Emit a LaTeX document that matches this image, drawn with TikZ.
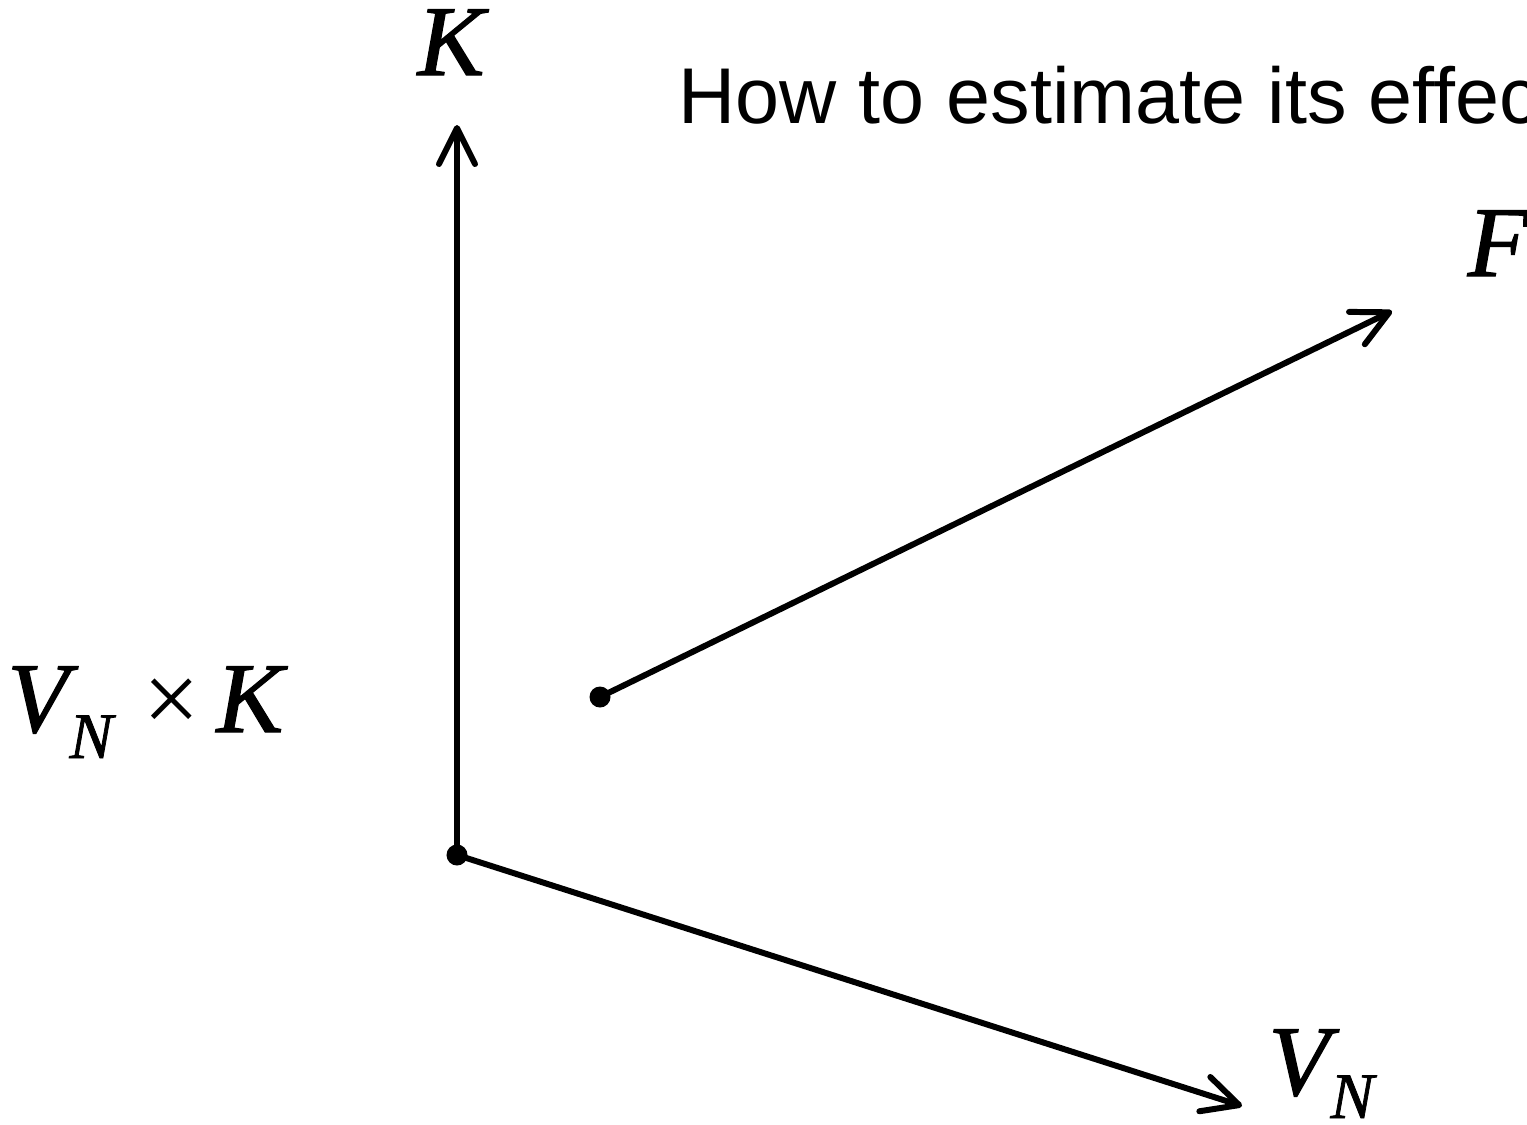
\documentclass[tikz,border=0pt]{standalone}
\usepackage{fontspec}
\setmainfont{Liberation Serif}[ItalicFeatures={FakeBold=1.2}]
\newfontfamily\arialfont{Liberation Sans}
\usetikzlibrary{arrows.meta}
\newcommand\serifbig{\fontsize{28.45pt}{34pt}\selectfont\itshape}
\newcommand\serifsub{\fontsize{18.5pt}{22pt}\selectfont\itshape}
\newcommand\placeat[3]{\makebox[0pt][l]{\hspace{#1}\raisebox{#2}{#3}}}
\tikzset{
  axis/.style={line width=1.7pt, line cap=round, -{Straight Barb[length=3.6mm, width=3.6mm, line cap=round, line join=round]}},
  dot/.style={circle, fill=black, inner sep=0pt, minimum size=2.1mm},
  lbl/.style={inner sep=0pt, anchor=base west},
}
\begin{document}
\begin{tikzpicture}[x=0.01cm, y=-0.01cm]
\useasboundingbox (0,0) rectangle (1527,1124);
\node[dot] (o) at (457,855) {};
\node[dot] (p) at (600,697) {};
\coordinate (ktip) at (457,125);
\coordinate (vtip) at (1242,1106);
\coordinate (ftip) at (1392,311);
\draw[axis] (o.center) -- (ktip);
\draw[axis] (o.center) -- (vtip);
\draw[axis] (p.center) -- (ftip);
\node[lbl] (klab) at (417,75) {\serifbig K};
\node[lbl] (title) at (678,123) {\arialfont\fontsize{22.5pt}{26pt}\selectfont How to estimate its effec};
\node[lbl] (flab) at (1467,276) {\serifbig F};
\node[lbl] (vklab) at (5,732) {\serifbig\placeat{0mm}{0mm}{V}\placeat{6.2mm}{-2.6mm}{\serifsub N}\placeat{13.6mm}{0mm}{\upshape\fontsize{28.45pt}{34pt}\selectfont ×}\placeat{20.9mm}{0mm}{K}};
\node[lbl] (vlab) at (1266,1095) {\serifbig\placeat{0mm}{0mm}{V}\placeat{6.2mm}{-2.3mm}{\serifsub N}};
\end{tikzpicture}
\end{document}
